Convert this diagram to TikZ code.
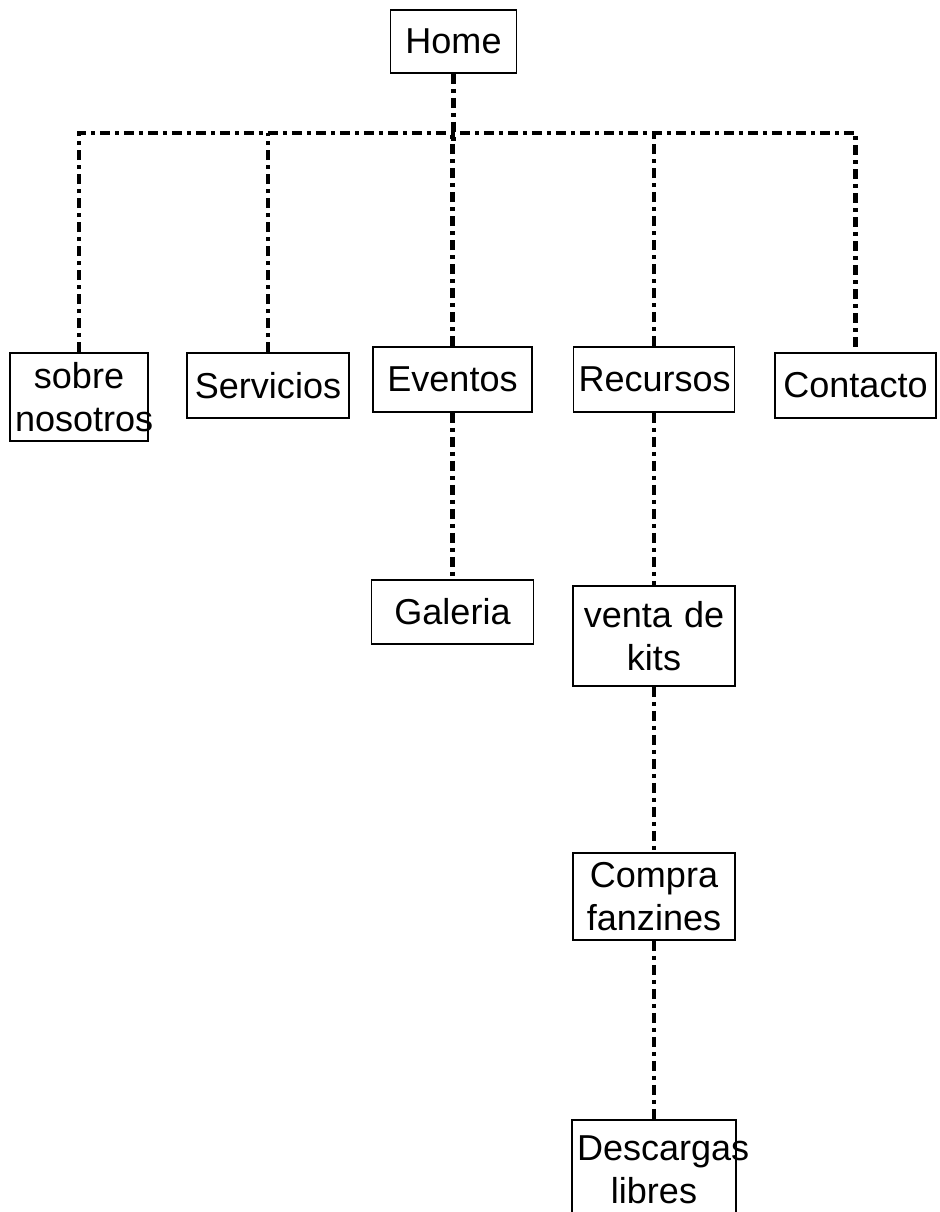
\documentclass[tikz,border=0pt]{standalone}
\usepackage{fontspec}
\setmainfont{Liberation Sans}

\tikzset{
  page/.style={draw=black, line width=1.1pt, align=center, text width=#1,
    inner xsep=0.1cm, inner ysep=0pt, font=\fontsize{20.5}{24.5}\selectfont},
  link/.style={line width=2.3pt, dash pattern=on 0.2cm off 0.1cm on 0.08cm off 0.1cm}
}

\begin{document}
\begin{tikzpicture}
    \useasboundingbox (0,0) rectangle (18.8,-24.24);

    \node[page=2.32cm, minimum height=1.26cm] (home) at (9.07,-0.83) {Home};
    \coordinate (hub) at (9.07,-2.66);
    \coordinate (stub) at (9.07,-2.9);

    \node[page=2.56cm, minimum height=1.76cm] (sobre) at (1.58,-7.94) {sobre\\nosotros};
    \node[page=3.04cm, minimum height=1.3cm] (servicios) at (5.36,-7.71) {Servicios};
    \node[page=2.98cm, minimum height=1.3cm] (eventos) at (9.05,-7.59) {Eventos};
    \node[page=3.02cm, minimum height=1.3cm] (recursos) at (13.08,-7.59) {Recursos};
    \node[page=3.02cm, minimum height=1.3cm] (contacto) at (17.11,-7.71) {Contacto};

    \node[page=3.04cm, minimum height=1.28cm] (galeria) at (9.05,-12.24) {Galeria};
    \node[page=3.04cm, minimum height=2.0cm] (kits) at (13.08,-12.72) {venta de\\kits};
    \node[page=3.04cm, minimum height=1.74cm] (fanzines) at (13.08,-17.93) {Compra\\fanzines};
    \node[page=3.08cm, minimum height=2.0cm] (descargas) at (13.08,-23.4) {Descargas\\libres};

    % tree lines
    \draw[link] (home) -- (stub);
    \draw[link] (sobre) |- (hub) -| (contacto);
    \draw[link] (servicios) -- (servicios |- hub);
    \draw[link] (eventos) -- (eventos |- hub);
    \draw[link] (recursos) -- (recursos |- hub);

    \draw[link] (eventos) -- (galeria);
    \draw[link] (recursos) -- (kits);
    \draw[link] (kits) -- (fanzines);
    \draw[link] (fanzines) -- (descargas);
\end{tikzpicture}
\end{document}
